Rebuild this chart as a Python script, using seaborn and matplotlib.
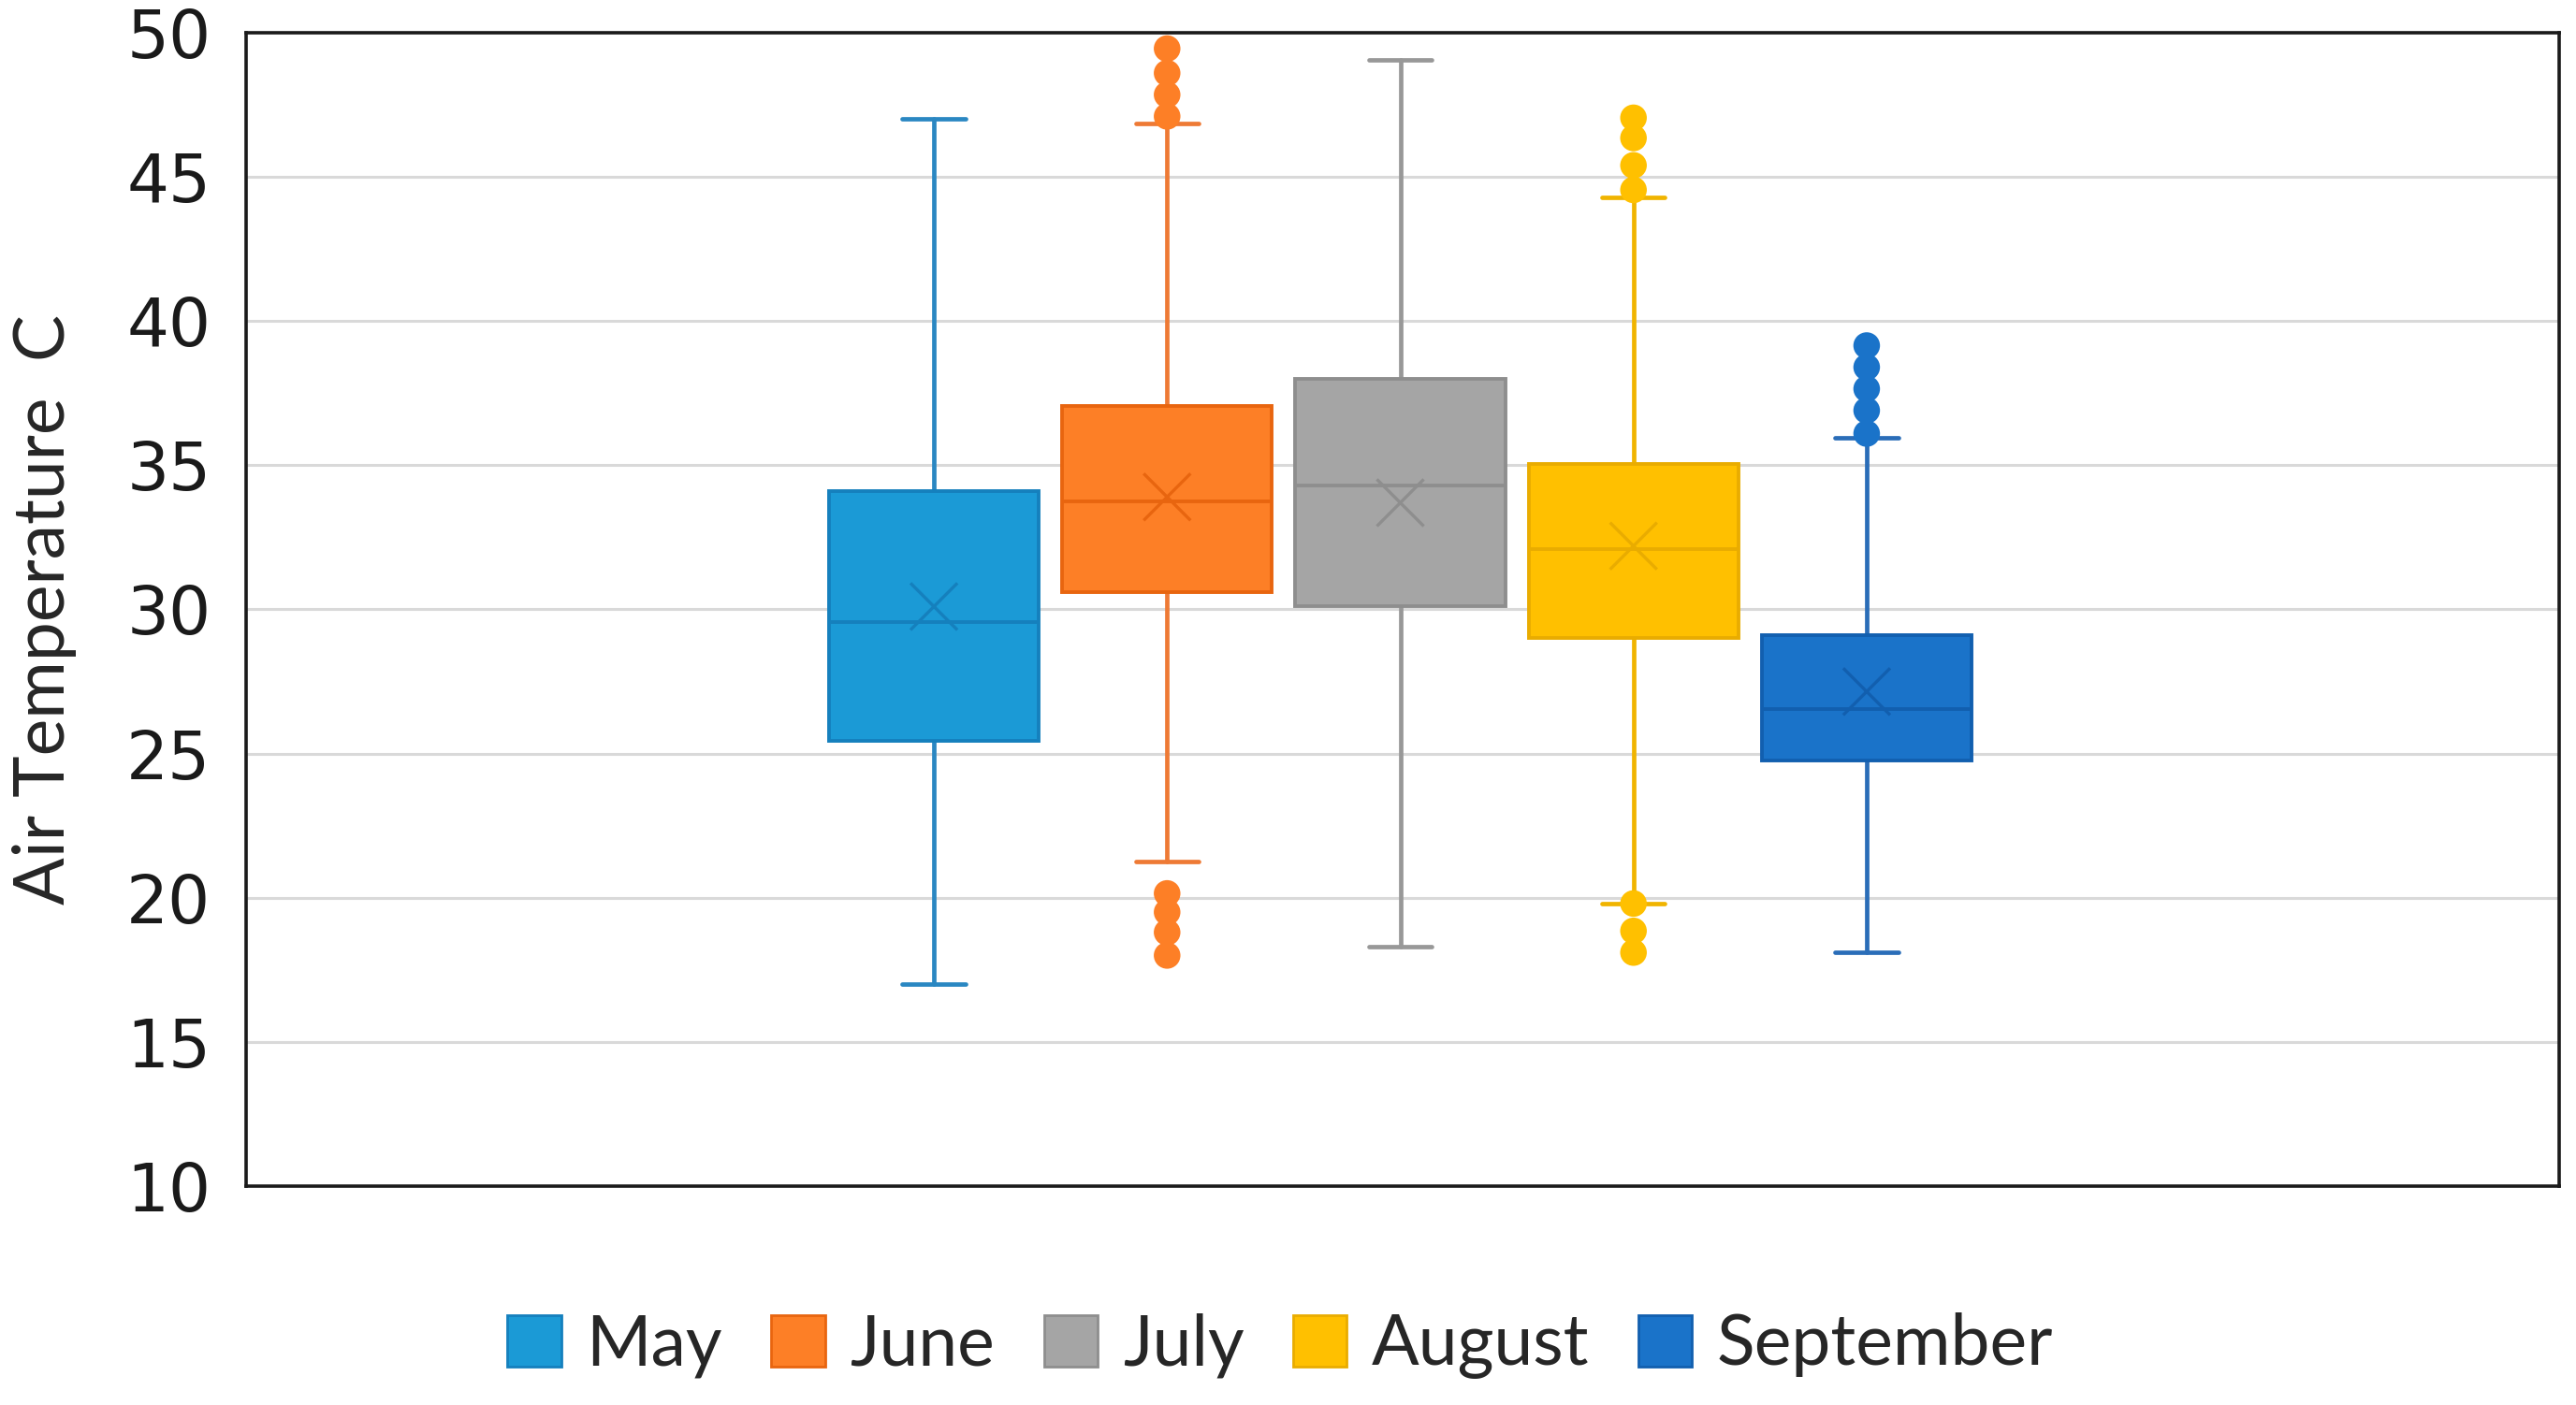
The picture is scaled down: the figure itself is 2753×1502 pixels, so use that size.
import pandas as pd
import matplotlib.pyplot as plt
import seaborn as sns
from matplotlib.patches import Patch

# box statistics (air temperature, deg C)
months = ["May", "June", "July", "August", "September"]
whislo = [17.0, 21.25, 18.3, 19.8, 18.1]
q1 = [25.45, 30.6, 30.1, 29.0, 24.75]
med = [29.55, 33.75, 34.3, 32.1, 26.55]
q3 = [34.1, 37.05, 38.0, 35.05, 29.1]
whishi = [47.0, 46.85, 49.05, 44.3, 35.95]
means = [30.1, 33.9, 33.7, 32.2, 27.15]
outliers = [
    [],
    [49.45, 48.6, 47.85, 47.1, 20.15, 19.5, 18.8, 18.0],
    [],
    [47.05, 46.35, 45.4, 44.55, 19.8, 18.85, 18.1],
    [39.15, 38.4, 37.65, 36.9, 36.1],
]

face_colors = ["#1B9AD6", "#FD7F26", "#A5A5A5", "#FFC000", "#1A73C9"]
edge_colors = ["#1580BD", "#E8650F", "#8E8E8E", "#E9AC00", "#125FAF"]
line_colors = ["#2A87C2", "#EE7A35", "#989898", "#F0B400", "#2A6DB8"]

sns.set_theme(style="white")
plt.rcParams["font.family"] = ["DejaVu Sans"]
narrow = ["Lato", "DejaVu Sans"]

fig = plt.figure(figsize=(27.53, 15.02), dpi=100)
ax = fig.add_axes([0.0955, 0.1558, 0.898, 0.8209])

stats = []
for i, m in enumerate(months):
    stats.append({"label": m, "whislo": whislo[i], "q1": q1[i], "med": med[i],
                  "q3": q3[i], "whishi": whishi[i], "fliers": []})

pos = list(range(len(months)))
bp = ax.bxp(stats, positions=pos, widths=0.9, patch_artist=True,
            showfliers=False, capwidths=0.27)
for i in range(len(months)):
    bp["boxes"][i].set(facecolor=face_colors[i], edgecolor=edge_colors[i], linewidth=2.8, zorder=3)
    bp["medians"][i].set(color=edge_colors[i], linewidth=2.8, zorder=4)
    for ln in bp["whiskers"][2 * i:2 * i + 2] + bp["caps"][2 * i:2 * i + 2]:
        ln.set(color=line_colors[i], linewidth=3.4, zorder=2)

# outliers
rows = []
for i, m in enumerate(months):
    for v in outliers[i]:
        rows.append({"pos": i, "month": m, "value": v})
out_df = pd.DataFrame(rows)
sns.scatterplot(data=out_df, x="pos", y="value", hue="month", hue_order=months,
                palette=face_colors, s=420, edgecolor=None, linewidth=0,
                legend=False, ax=ax, zorder=5)

# means
mean_df = pd.DataFrame({"pos": pos, "month": months, "mean": means})
sns.scatterplot(data=mean_df, x="pos", y="mean", hue="month", hue_order=months,
                palette=edge_colors, marker="x", s=1300, linewidth=2.4,
                legend=False, ax=ax, zorder=6)

ax.set_xlim(-2.95, 6.97)
ax.set_ylim(10, 50)
ax.set_yticks(range(10, 51, 5))
ax.set_xticks([])
ax.set_xlabel("")
ax.yaxis.grid(True, color="#D9D9D9", linewidth=2.2)
ax.set_axisbelow(True)
for s in ax.spines.values():
    s.set_visible(True)
    s.set_color("#1A1A1A")
    s.set_linewidth(2.6)
ax.tick_params(axis="y", labelsize=51, length=0, pad=27, colors="#1A1A1A")
ax.set_ylabel("Air Temperature  C", fontsize=54, color="#262626", labelpad=38,
              family=narrow)

handles = [Patch(facecolor=face_colors[i], edgecolor=edge_colors[i], linewidth=2, label=m)
           for i, m in enumerate(months)]
fig.legend(handles=handles, loc="center", bbox_to_anchor=(0.497, 0.042), ncol=5,
           frameon=False, handlelength=0.77, handleheight=0.75, handletextpad=0.35,
           columnspacing=0.7, prop={"family": narrow, "size": 54})

fig.savefig("out.png", dpi=100)
